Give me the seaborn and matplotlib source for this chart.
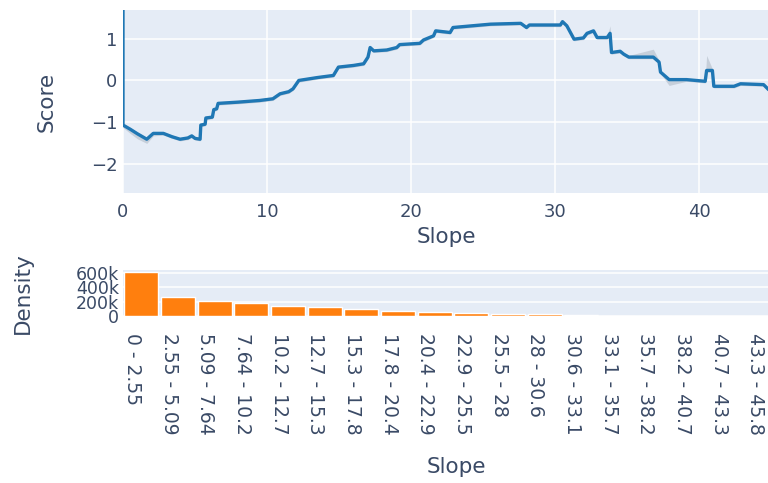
import matplotlib
matplotlib.use("Agg")
import matplotlib.pyplot as plt
import matplotlib.transforms as mtransforms
import seaborn as sns

# Rolling score against slope
slope_x = [
    0.0, 0.0, 0.5, 1.0, 1.65, 2.1, 2.8, 3.4, 3.96, 4.5,
    4.77, 5.0, 5.35, 5.4, 5.7, 5.75, 6.2, 6.3, 6.5, 6.6,
    8.0, 9.5, 10.4, 10.9, 11.5, 11.8, 12.2, 13.5, 14.6, 14.95,
    16.0, 16.7, 17.0, 17.15, 17.4, 18.3, 19.0, 19.2, 20.6, 20.85,
    21.55, 21.7, 22.7, 22.9, 25.5, 27.6, 28.0, 28.2, 30.35, 30.5,
    30.8, 31.3, 31.95, 32.2, 32.65, 32.9, 33.6, 33.8, 33.9, 34.5,
    34.75, 35.1, 36.8, 37.2, 37.3, 37.9, 39.1, 40.4, 40.5, 40.9,
    41.0, 42.4, 42.85, 44.45, 44.8, 45.8,
]
score_y = [
    3.0, -1.07, -1.17, -1.28, -1.41, -1.27, -1.27, -1.35, -1.41, -1.38,
    -1.33, -1.39, -1.41, -1.07, -1.05, -0.9, -0.88, -0.7, -0.68, -0.55,
    -0.52, -0.48, -0.44, -0.32, -0.27, -0.2, 0.0, 0.07, 0.12, 0.32,
    0.36, 0.4, 0.56, 0.79, 0.71, 0.73, 0.79, 0.86, 0.89, 0.97,
    1.07, 1.19, 1.15, 1.27, 1.35, 1.37, 1.27, 1.33, 1.33, 1.41,
    1.31, 0.99, 1.02, 1.13, 1.19, 1.03, 1.03, 1.13, 0.67, 0.7,
    0.63, 0.56, 0.56, 0.44, 0.2, 0.02, 0.02, -0.02, 0.24, 0.24,
    -0.14, -0.14, -0.08, -0.1, -0.22, -0.35,
]
# Uncertainty band above / below the score
ci_up = [
    0.00, 0.04, 0.04, 0.04, 0.04, 0.04, 0.04, 0.04, 0.04, 0.04,
    0.04, 0.04, 0.04, 0.04, 0.04, 0.04, 0.04, 0.04, 0.04, 0.04,
    0.04, 0.04, 0.04, 0.04, 0.04, 0.04, 0.04, 0.04, 0.04, 0.04,
    0.04, 0.04, 0.04, 0.04, 0.04, 0.04, 0.04, 0.04, 0.04, 0.04,
    0.04, 0.04, 0.04, 0.04, 0.04, 0.04, 0.04, 0.04, 0.04, 0.04,
    0.04, 0.04, 0.04, 0.04, 0.04, 0.04, 0.04, 0.18, 0.04, 0.04,
    0.04, 0.04, 0.19, 0.04, 0.04, 0.04, 0.04, 0.04, 0.36, 0.04,
    0.04, 0.04, 0.04, 0.04, 0.04, 0.04,
]
ci_dn = [
    0.00, 0.06, 0.10, 0.12, 0.10, 0.06, 0.04, 0.04, 0.04, 0.04,
    0.04, 0.04, 0.04, 0.04, 0.04, 0.04, 0.04, 0.04, 0.04, 0.04,
    0.04, 0.04, 0.04, 0.04, 0.04, 0.04, 0.04, 0.04, 0.04, 0.04,
    0.04, 0.04, 0.04, 0.04, 0.04, 0.04, 0.04, 0.04, 0.04, 0.04,
    0.04, 0.04, 0.04, 0.04, 0.04, 0.04, 0.04, 0.04, 0.04, 0.04,
    0.04, 0.04, 0.04, 0.04, 0.04, 0.04, 0.04, 0.04, 0.04, 0.04,
    0.04, 0.04, 0.04, 0.04, 0.04, 0.14, 0.04, 0.04, 0.04, 0.04,
    0.04, 0.04, 0.04, 0.04, 0.04, 0.04,
]
score_ticks = [-2, -1, 0, 1]
slope_ticks = [0, 10, 20, 30, 40]

# Slope distribution
slope_bins = [
    "0 - 2.55", "2.55 - 5.09", "5.09 - 7.64", "7.64 - 10.2", "10.2 - 12.7",
    "12.7 - 15.3", "15.3 - 17.8", "17.8 - 20.4", "20.4 - 22.9", "22.9 - 25.5",
    "25.5 - 28", "28 - 30.6", "30.6 - 33.1", "33.1 - 35.7", "35.7 - 38.2",
    "38.2 - 40.7", "40.7 - 43.3", "43.3 - 45.8",
]
bin_counts = [
    610000, 262000, 214000, 186000, 140000, 120000, 94000, 70000, 51000, 47000,
    25000, 23000, 21000, 6000, 5000, 4000, 1000, 500,
]
density_ticks = [0, 200000, 400000, 600000]
density_labels = ["0", "200k", "400k", "600k"]

BG = "#E5ECF6"
TEXT = "#3a4a66"
BLUE = "#1f77b4"
ORANGE = "#ff7f0e"

sns.set_style("darkgrid", {
    "axes.facecolor": BG,
    "grid.color": "white",
    "axes.edgecolor": BG,
    "xtick.color": TEXT,
    "ytick.color": TEXT,
    "axes.labelcolor": TEXT,
    "text.color": TEXT,
})
plt.rcParams["font.family"] = ["DejaVu Sans"]

fig = plt.figure(figsize=(7.68, 4.83), dpi=100)
W, H = 768, 483
ax1 = fig.add_axes([123 / W, (H - 193) / H, 660 / W, 183 / H])
ax2 = fig.add_axes([123 / W, (H - 316) / H, 660 / W, 46 / H])

# --- score line ---
lo = [y - d for y, d in zip(score_y, ci_dn)]
hi = [y + u for y, u in zip(score_y, ci_up)]
ax1.fill_between(slope_x, lo, hi, color="#8e99a8", alpha=0.35, linewidth=0)
sns.lineplot(x=slope_x, y=score_y, ax=ax1, color=BLUE, linewidth=2.4,
             sort=False, estimator=None)
ax1.set_xlim(0, 45.8)
ax1.set_ylim(-2.7, 1.69)
ax1.set_xticks(slope_ticks)
ax1.set_yticks(score_ticks)
ax1.set_yticklabels(["\u22122", "\u22121", "0", "1"])
ax1.grid(True, color="white", linewidth=1.1)
ax1.tick_params(axis="both", length=0, labelsize=13)
ax1.tick_params(axis="x", pad=7)
ax1.tick_params(axis="y", pad=4)
for s in ax1.spines.values():
    s.set_visible(False)
ax1.set_xlabel("Slope", fontsize=15.5)
ax1.set_ylabel("Score", fontsize=15.5)
ax1.xaxis.set_label_coords(0.49, -0.185)
ax1.yaxis.set_label_coords(-0.1, 0.5)

# --- slope histogram ---
sns.barplot(x=slope_bins, y=bin_counts, ax=ax2, color=ORANGE, saturation=1,
            width=0.93)
ax2.set_xlim(-0.5, len(slope_bins) - 0.5)
ax2.set_ylim(0, 645000)
ax2.set_yticks(density_ticks)
ax2.set_yticklabels(density_labels)
ax2.grid(True, axis="y", color="white", linewidth=1.1)
ax2.grid(False, axis="x")
ax2.tick_params(axis="both", length=0, labelsize=12.5)
ax2.tick_params(axis="x", pad=12, labelrotation=-90, labelsize=13.5)
ax2.tick_params(axis="y", pad=3)
shift = mtransforms.ScaledTranslation(-9 / 100, 0, fig.dpi_scale_trans)
for lab in ax2.get_xticklabels():
    lab.set_verticalalignment("top")
    lab.set_horizontalalignment("center")
    lab.set_transform(lab.get_transform() + shift)
for s in ax2.spines.values():
    s.set_visible(False)
ax2.set_xlabel("Slope", fontsize=15.5)
ax2.set_ylabel("Density", fontsize=15.5)
ax2.xaxis.set_label_coords(0.505, -3.07)
ax2.yaxis.set_label_coords(-0.136, 0.5)

fig.savefig("out.png", dpi=100)
